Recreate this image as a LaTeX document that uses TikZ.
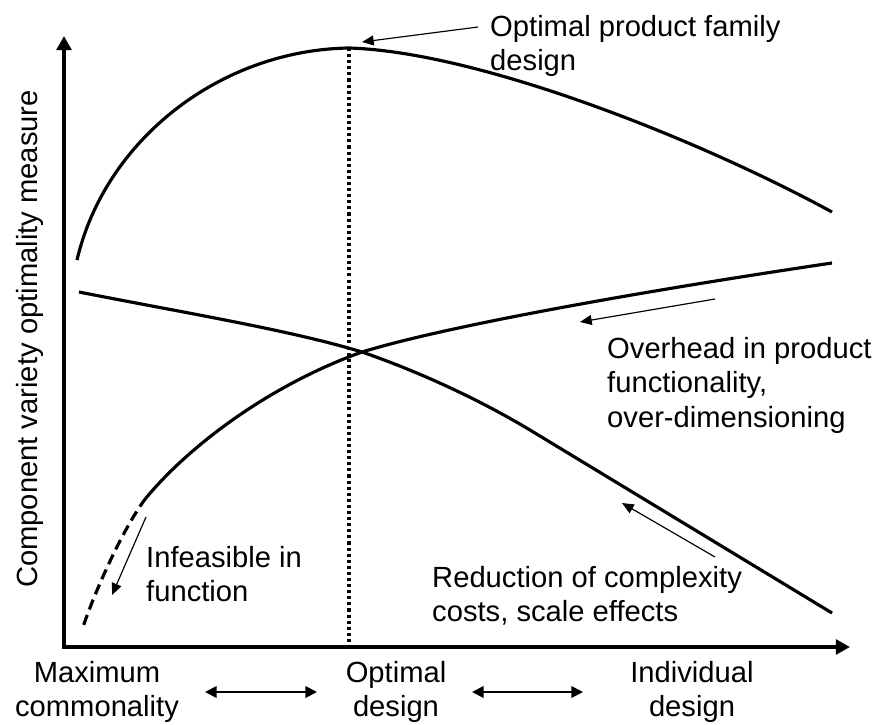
\documentclass[tikz,border=0pt]{standalone}
\usepackage{fontspec}
\setmainfont{Liberation Sans}
\usetikzlibrary{arrows.meta}
\tikzset{
  txt/.style={inner sep=0pt, font=\fontsize{24.9}{29.5}\selectfont},
  axis/.style={{Triangle[length=12pt,width=12.5pt]}-{Triangle[length=12pt,width=12.5pt]}, line width=3.5pt, line join=miter},
  curve/.style={line width=2.7pt, line cap=butt},
  pointer/.style={-{Triangle[length=10pt,width=8.5pt]}, line width=1pt},
  twoway/.style={{Triangle[length=10pt,width=10pt]}-{Triangle[length=10pt,width=10pt]}, line width=1.6pt}
}
\begin{document}
\begin{tikzpicture}[x=0.03cm,y=-0.03cm]
  \useasboundingbox (0,0) rectangle (876,724);
  % axes
  \draw[axis] (64,36) -- (64,647) -- (850,647);
  \node[txt, rotate=90] (ylab) at (30,339) {Component variety optimality measure};
  % optimum line
  \draw[line width=2.6pt, dash pattern=on 2.6pt off 2.6pt] (349,48) -- (349,642);
  % curves
  \draw[curve] (77,260) .. controls (105,140) and (220,50) .. (349,48)
                         .. controls (480,52) and (700,140) .. (832,212);
  \draw[curve] (79,292) .. controls (180,312) and (290,330) .. (362,352)
                         .. controls (420,372) and (480,400) .. (530,430) -- (832,613);
  \draw[curve] (146,498) .. controls (190,445) and (270,385) .. (362,352)
                          .. controls (450,325) and (650,290) .. (832,263);
  \draw[curve, dash pattern=on 9pt off 5pt] (146,498) .. controls (125,525) and (95,590) .. (82,630);
  % annotations
  \node[txt, anchor=north west, align=left] (opt) at (490,15) {Optimal product family\\design};
  \coordinate (optA) at (478,27);
  \coordinate (optB) at (362,42);
  \draw[pointer] (optA) -- (optB);
  \node[txt, anchor=north west, align=left] (over) at (607,337) {Overhead in product\\functionality,\\over-dimensioning};
  \coordinate (overA) at (715,299);
  \coordinate (overB) at (580,322);
  \draw[pointer] (overA) -- (overB);
  \node[txt, anchor=north west, align=left] (red) at (432,566) {Reduction of complexity\\costs, scale effects};
  \coordinate (redA) at (715,557);
  \coordinate (redB) at (622,503);
  \draw[pointer] (redA) -- (redB);
  \node[txt, anchor=north west, align=left] (inf) at (146,546) {Infeasible in\\function};
  \coordinate (infA) at (146,517);
  \coordinate (infB) at (112,595);
  \draw[pointer] (infA) -- (infB);
  % x-axis labels
  \node[txt, anchor=north, align=center] (maxc) at (97,661) {Maximum\\commonality};
  \node[txt, anchor=north, align=center] (optd) at (396,661) {Optimal\\design};
  \node[txt, anchor=north, align=center] (indd) at (692,661) {Individual\\design};
  \coordinate (r1a) at (205,692);
  \coordinate (r1b) at (317,692);
  \coordinate (r2a) at (472,692);
  \coordinate (r2b) at (583,692);
  \draw[twoway] (r1a) -- (r1b);
  \draw[twoway] (r2a) -- (r2b);
\end{tikzpicture}
\end{document}
